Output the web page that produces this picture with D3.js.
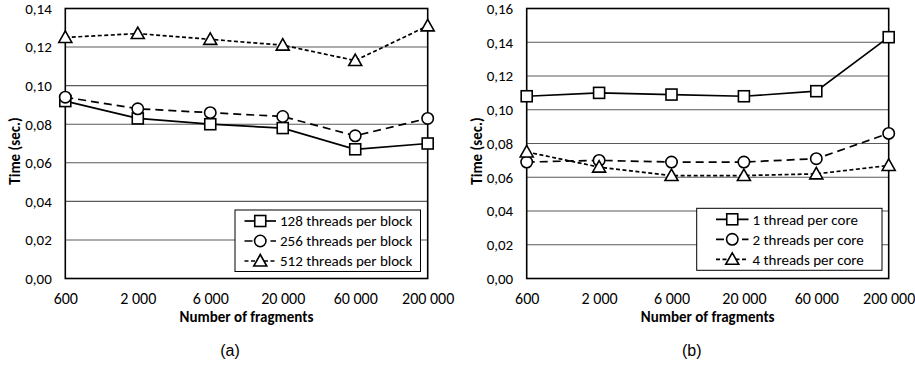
<!DOCTYPE html>
<html><head><meta charset="utf-8">
<script src="https://cdn.jsdelivr.net/npm/d3@7"></script>
<style>
body{margin:0;background:#fff;}
text{font-family:Carlito,Lato,"Open Sans",sans-serif;fill:#000;}
</style></head><body>
<svg id="c" width="915" height="367"></svg>
<script>
const categories = ["600","2 000","6 000","20 000","60 000","200 000"];

const seriesNamesA = ["128 threads per block","256 threads per block","512 threads per block"];
const a128 = [0.092,0.083,0.080,0.078,0.067,0.070];
const a256 = [0.094,0.088,0.086,0.084,0.074,0.083];
const a512 = [0.125,0.127,0.124,0.121,0.113,0.131];
const yTicksA = [0,0.02,0.04,0.06,0.08,0.10,0.12,0.14];

const seriesNamesB = ["1 thread per core","2 threads per core","4 threads per core"];
const b1 = [0.108,0.110,0.109,0.108,0.111,0.143];
const b2 = [0.069,0.070,0.069,0.069,0.071,0.086];
const b4 = [0.075,0.066,0.061,0.061,0.062,0.067];
const yTicksB = [0,0.02,0.04,0.06,0.08,0.10,0.12,0.14,0.16];

const styles = [
  {dash:null, marker:"square"},
  {dash:"8,5", marker:"circle"},
  {dash:"4,2.5", marker:"triangle"}
];

const svg = d3.select("#c");
const fmt = v => v.toFixed(2).replace(".", ",");
const FS = "15px";

function drawMarker(g, type, x, y){
  if(type==="square"){
    g.append("rect").attr("x",x-5.5).attr("y",y-5.5).attr("width",11).attr("height",11)
      .attr("fill","#fff").attr("stroke","#000").attr("stroke-width",1.6);
  } else if(type==="circle"){
    g.append("circle").attr("cx",x).attr("cy",y).attr("r",5.7)
      .attr("fill","#fff").attr("stroke","#000").attr("stroke-width",1.6);
  } else {
    g.append("path").attr("d",`M${x},${y-6.5}L${x+6.5},${y+5}L${x-6.5},${y+5}Z`)
      .attr("fill","#fff").attr("stroke","#000").attr("stroke-width",1.6);
  }
}

function panel(opt){
  const g = svg.append("g");
  const x = d3.scalePoint().domain(categories).range([opt.x0, opt.x1]);
  const y = d3.scaleLinear().domain([0, opt.ymax]).range([278.5, 8.5]);
  g.append("g").selectAll("line").data(opt.yTicks.slice(1, -1)).join("line")
    .attr("x1",opt.x0).attr("x2",opt.x1).attr("y1",d=>y(d)).attr("y2",d=>y(d))
    .attr("stroke","#5a5a5a").attr("stroke-width",1.1);
  g.append("rect").attr("x",opt.x0).attr("y",y(opt.ymax)).attr("width",opt.x1-opt.x0)
    .attr("height",y(0)-y(opt.ymax)).attr("fill","none").attr("stroke","#000").attr("stroke-width",1.6);
  const ya = d3.axisLeft(y).tickValues(opt.yTicks).tickFormat(fmt).tickSize(0).tickPadding(13.5);
  const yg = g.append("g").attr("transform",`translate(${opt.x0},0)`).call(ya);
  yg.select(".domain").remove();
  yg.selectAll("text").style("font-size",FS).style("font-family",null);
  const xa = d3.axisBottom(x).tickSize(0).tickPadding(14.5);
  const xg = g.append("g").attr("transform",`translate(0,${y(0)})`).call(xa);
  xg.select(".domain").remove();
  xg.selectAll("text").style("font-size","16px").style("font-family",null);
  g.append("text").attr("x",(opt.x0+opt.x1)/2).attr("y",322).attr("text-anchor","middle")
    .style("font-size",FS).style("font-weight","bold").text("Number of fragments");
  g.append("text").attr("transform",`translate(${opt.x0-45},151) rotate(-90)`).attr("text-anchor","middle")
    .style("font-size",FS).style("font-weight","bold").text("Time (sec.)");
  g.append("text").attr("x",opt.capX).attr("y",355.5).attr("text-anchor","middle")
    .style("font-size","16px").style("font-family","'Liberation Sans',Arial,sans-serif").text(opt.caption);
  const line = d3.line().x((d,i)=>x(categories[i])).y(d=>y(d));
  opt.series.forEach((s,k)=>{
    g.append("path").attr("d",line(s)).attr("fill","none").attr("stroke","#000")
      .attr("stroke-width",1.7).attr("stroke-dasharray",styles[k].dash);
  });
  opt.series.forEach((s,k)=>{
    const mg = g.append("g");
    s.forEach((v,i)=>drawMarker(mg, styles[k].marker, x(categories[i]), y(v)));
  });
  const L = opt.legend;
  const lg = g.append("g");
  lg.append("rect").attr("x",L.x).attr("y",L.y).attr("width",L.w).attr("height",L.h)
    .attr("fill","#fff").attr("stroke","#000").attr("stroke-width",1);
  opt.names.forEach((n,k)=>{
    const cy = L.y + 11 + k*20;
    lg.append("line").attr("x1",L.lx0).attr("x2",L.lx1).attr("y1",cy).attr("y2",cy)
      .attr("stroke","#000").attr("stroke-width",1.7).attr("stroke-dasharray",styles[k].dash);
    drawMarker(lg, styles[k].marker, (L.lx0+L.lx1)/2, cy);
    lg.append("text").attr("x",L.tx).attr("y",cy).attr("dy","0.35em")
      .style("font-size",FS).text(n);
  });
}

panel({x0:65.3, x1:427.7, ymax:0.14, yTicks:yTicksA, series:[a128,a256,a512], names:seriesNamesA,
  caption:"(a)", capX:230,
  legend:{x:235, y:210, w:185.5, h:61.5, lx0:244.5, lx1:276, tx:280}});
panel({x0:526.7, x1:888.7, ymax:0.16, yTicks:yTicksB, series:[b1,b2,b4], names:seriesNamesB,
  caption:"(b)", capX:691.7,
  legend:{x:696.7, y:208.3, w:185.3, h:62, lx0:716, lx1:748.5, tx:752.5}});
</script>
</body></html>
